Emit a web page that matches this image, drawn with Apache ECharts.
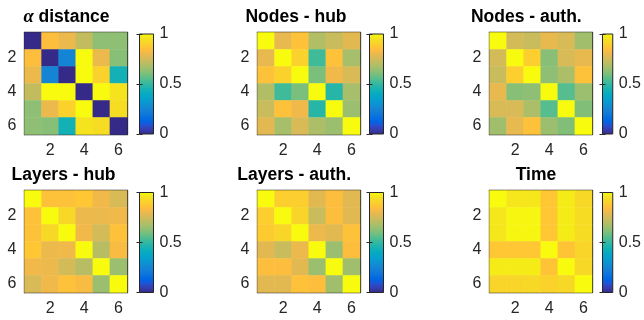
<!DOCTYPE html>
<html><head><meta charset="utf-8">
<script src="https://cdn.jsdelivr.net/npm/echarts@6/dist/echarts.min.js"></script>
<style>html,body{margin:0;padding:0;background:#fff}#c{width:644px;height:320px}</style>
</head><body><div id="c"></div>
<script>
// ---------- data ----------
const categories = ['1', '2', '3', '4', '5', '6'];
const panelTitles = ['{a|α} distance', 'Nodes - hub', 'Nodes - auth.', 'Layers - hub', 'Layers - auth.', 'Time'];
const alphaDistance = [
  [0.00, 0.84, 0.80, 0.72, 0.63, 0.63],
  [0.84, 0.00, 0.25, 1.00, 0.80, 0.62],
  [0.80, 0.25, 0.00, 1.00, 0.90, 0.44],
  [0.72, 1.00, 1.00, 0.00, 1.00, 0.95],
  [0.63, 0.80, 0.90, 1.00, 0.00, 0.93],
  [0.63, 0.62, 0.44, 0.95, 0.93, 0.00]
];
const nodesHub = [
  [1.00, 0.79, 0.85, 0.69, 0.73, 0.78],
  [0.79, 1.00, 0.90, 0.52, 0.85, 0.67],
  [0.85, 0.90, 1.00, 0.60, 0.81, 0.76],
  [0.69, 0.52, 0.60, 1.00, 0.48, 0.67],
  [0.73, 0.85, 0.81, 0.48, 1.00, 0.65],
  [0.78, 0.67, 0.76, 0.68, 0.65, 1.00]
];
const nodesAuth = [
  [1.00, 0.75, 0.73, 0.79, 0.76, 0.66],
  [0.75, 1.00, 0.89, 0.62, 0.76, 0.79],
  [0.73, 0.89, 1.00, 0.63, 0.68, 0.85],
  [0.79, 0.62, 0.63, 1.00, 0.55, 0.65],
  [0.76, 0.76, 0.68, 0.55, 1.00, 0.61],
  [0.66, 0.79, 0.85, 0.65, 0.61, 1.00]
];
const layersHub = [
  [1.00, 0.85, 0.85, 0.87, 0.81, 0.76],
  [0.85, 1.00, 0.92, 0.80, 0.80, 0.81],
  [0.85, 0.92, 1.00, 0.81, 0.75, 0.85],
  [0.87, 0.80, 0.81, 1.00, 0.70, 0.83],
  [0.81, 0.80, 0.75, 0.70, 1.00, 0.65],
  [0.76, 0.81, 0.85, 0.83, 0.65, 1.00]
];
const layersAuth = [
  [1.00, 0.89, 0.89, 0.78, 0.84, 0.78],
  [0.89, 1.00, 0.91, 0.73, 0.84, 0.78],
  [0.88, 0.91, 1.00, 0.80, 0.78, 0.85],
  [0.78, 0.73, 0.80, 1.00, 0.65, 0.84],
  [0.84, 0.84, 0.78, 0.65, 1.00, 0.66],
  [0.78, 0.78, 0.85, 0.84, 0.66, 1.00]
];
const timeSim = [
  [1.00, 0.96, 0.96, 0.87, 0.97, 0.92],
  [0.96, 0.99, 0.99, 0.87, 0.97, 0.93],
  [0.96, 0.99, 0.99, 0.87, 0.97, 0.93],
  [0.87, 0.87, 0.87, 1.00, 0.86, 0.91],
  [0.97, 0.97, 0.97, 0.86, 1.00, 0.92],
  [0.91, 0.91, 0.92, 0.90, 0.92, 1.00]
];
const colorbarMin = 0;
const colorbarMax = 1;
const colorbarStep = 0.5;

// ---------- styling / layout ----------
const parula = [
'#352a87','#363093','#3637a0','#353dad','#3243ba','#2c4ac7','#2053d4','#0f5cdd','#0363e1','#0268e1','#046de0','#0871de','#0d75dc','#1079da','#127dd8','#1481d6','#1485d4','#1389d3','#108ed2','#0c93d2','#0998d1','#079ccf','#06a0cd','#06a4ca','#06a7c6','#07a9c2','#0aacbe','#0faeb9','#15b1b4','#1db3af','#25b5a9','#2eb7a4','#38b99e','#42bb98','#4dbc92','#59bd8c','#65be86','#71bf80','#7cbf7b','#87bf77','#92bf73','#9cbf6f','#a5be6b','#aebe67','#b7bd64','#c0bc60','#c8bc5d','#d1bb59','#d9ba56','#e1b952','#e9b94e','#f1b94a','#f8bb44','#fdbe3d','#ffc337','#fec832','#fcce2e','#fad32a','#f7d826','#f5de21','#f5e41d','#f5eb18','#f6f313','#f9fb0e'];
const FONT = '"Liberation Sans", Arial, Helvetica, sans-serif';
const AX = '#262626';
const colLeft = [24.5, 257.5, 489.5];
const rowTop = [32.5, 190.5];
const cellW = 102.5, cellH = 102;
const cbLeft = [139.5, 369.5, 602.5];
const cbTop = [34, 192.5];
const cbW = 14, cbH = 100;
const titleX = [66.5, 296, 526.3, 63.5, 294.2, 536];
const titleY = [17.5, 175];

const panels = [alphaDistance, nodesHub, nodesAuth, layersHub, layersAuth, timeSim];

const grid = [], xAxis = [], yAxis = [], series = [], graphic = [];
const evenOnly = (i) => i % 2 === 1;

panels.forEach((mat, p) => {
  const r = Math.floor(p / 3), c = p % 3;
  grid.push({left: colLeft[c], top: rowTop[r], width: cellW, height: cellH, containLabel: false});
  const tick = {show: true, inside: true, length: 4, alignWithLabel: true, interval: evenOnly, lineStyle: {color: AX, width: 1}};
  const line = {show: true, lineStyle: {color: AX, width: 1.3}};
  xAxis.push({type: 'category', data: categories, gridIndex: p, position: 'bottom',
    axisLine: line, axisTick: tick, splitLine: {show: false},
    axisLabel: {interval: evenOnly, margin: 8, fontSize: 16, color: AX, fontFamily: FONT}});
  xAxis.push({type: 'category', data: categories, gridIndex: p, position: 'top',
    axisLine: line, axisTick: tick, axisLabel: {show: false}, splitLine: {show: false}});
  yAxis.push({type: 'category', data: categories, gridIndex: p, position: 'left', inverse: true,
    axisLine: line, axisTick: tick, splitLine: {show: false},
    axisLabel: {interval: evenOnly, margin: 8, fontSize: 16, color: AX, fontFamily: FONT}});
  yAxis.push({type: 'category', data: categories, gridIndex: p, position: 'right', inverse: true,
    axisLine: line, axisTick: tick, axisLabel: {show: false}, splitLine: {show: false}});
  const data = [];
  mat.forEach((row, ri) => row.forEach((v, ci) => data.push([ci, ri, v])));
  series.push({type: 'heatmap', xAxisIndex: 2 * p, yAxisIndex: 2 * p, data,
    itemStyle: {borderWidth: 0}, emphasis: {disabled: true}, silent: true, progressive: 0, z: 1});
  graphic.push({type: 'text', x: titleX[p], y: titleY[r], silent: true, z: 100,
    style: {text: panelTitles[p], fill: '#000', fontFamily: FONT, fontSize: 17.5, fontWeight: 'bold',
      textAlign: 'center', textVerticalAlign: 'middle',
      rich: {a: {fontFamily: '"Liberation Serif", "DejaVu Serif", serif', fontStyle: 'italic', fontWeight: 'bold', fontSize: 18.5, fill: '#000'}}}});
});

// colorbars
const stops = parula.map((col, i) => ({offset: 1 - i / (parula.length - 1), color: col}));
for (let p = 0; p < 6; p++) {
  const r = Math.floor(p / 3), c = p % 3;
  const gi = grid.length;
  grid.push({left: cbLeft[c], top: cbTop[r], width: cbW, height: cbH, show: true,
    backgroundColor: {type: 'linear', x: 0, y: 0, x2: 0, y2: 1, colorStops: stops},
    borderColor: AX, borderWidth: 1});
  xAxis.push({type: 'value', gridIndex: gi, show: false, min: 0, max: 1});
  const cbTick = {show: true, inside: true, length: 3, lineStyle: {color: AX, width: 1}};
  yAxis.push({type: 'value', gridIndex: gi, position: 'right', min: colorbarMin, max: colorbarMax, interval: colorbarStep,
    axisLine: {show: false}, axisTick: cbTick, splitLine: {show: false},
    axisLabel: {margin: 6, fontSize: 16, color: AX, fontFamily: FONT, formatter: v => String(v)}});
  yAxis.push({type: 'value', gridIndex: gi, position: 'left', min: colorbarMin, max: colorbarMax, interval: colorbarStep,
    axisLine: {show: false}, axisTick: cbTick, splitLine: {show: false}, axisLabel: {show: false}});
}

const chart = echarts.init(document.getElementById('c'), null, {renderer: 'canvas'});
chart.setOption({
  animation: false,
  backgroundColor: '#fff',
  grid, xAxis, yAxis, series, graphic,
  visualMap: {type: 'continuous', show: false, min: colorbarMin, max: colorbarMax, dimension: 2,
    seriesIndex: [0, 1, 2, 3, 4, 5], inRange: {color: parula}}
});
</script>
</body></html>
